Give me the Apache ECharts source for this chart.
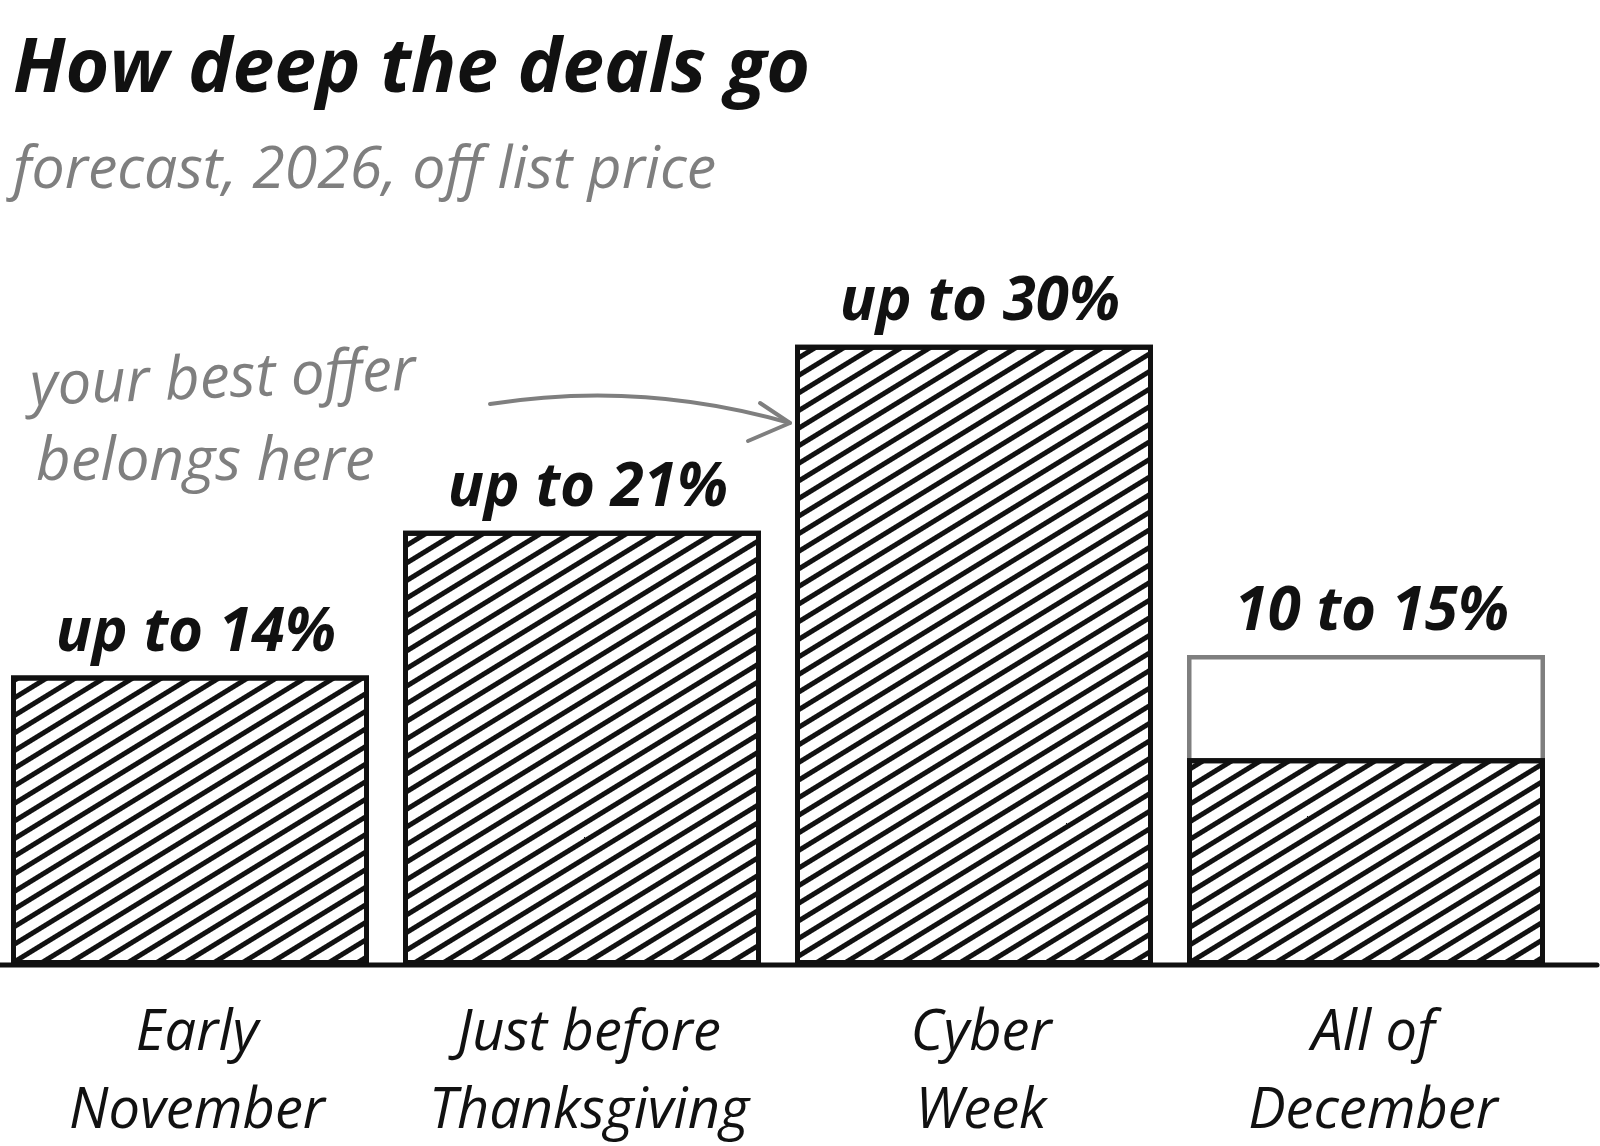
<!DOCTYPE html>
<html>
<head>
<meta charset="utf-8">
<title>How deep the deals go</title>
<script src="https://cdn.jsdelivr.net/npm/echarts@6/dist/echarts.min.js"></script>
<style>
  html, body { margin: 0; padding: 0; background: #fff; }
  #chart { width: 1600px; height: 1146px; }
</style>
</head>
<body>
<div id="chart"></div>
<script>
// 数据
const categories = ['Early\nNovember', 'Just before\nThanksgiving', 'Cyber\nWeek', 'All of\nDecember']
const dealLow = [14, 21, 30, 10]          // 实心柱
const dealHigh = [null, null, null, 15]   // 区间上限（灰框）
const valueLabels = ['up to 14%', 'up to 21%', 'up to 30%', '10 to 15%']
const noteLines = ['your best offer', 'belongs here']

const FONT = "'Open Sans', 'DejaVu Sans', sans-serif"
const INK = '#111'
const GREY = '#7f7f7f'

const chart = echarts.init(document.getElementById('chart'))

const valueLabel = {
  show: true,
  position: 'top',
  distance: 12,
  offset: [6, 0],
  fontFamily: FONT,
  fontSize: 60,
  fontStyle: 'italic',
  fontWeight: 'bold',
  color: INK
}

const option = {
  backgroundColor: '#fff',
  animation: false,
  title: {
    text: 'How deep the deals go',
    subtext: 'forecast, 2026, off list price',
    left: 8,
    top: 28,
    itemGap: 34,
    textStyle: { fontFamily: FONT, fontSize: 75, fontWeight: 'bold', fontStyle: 'italic', color: INK },
    subtextStyle: { fontFamily: FONT, fontSize: 59, fontStyle: 'italic', color: GREY }
  },
  grid: {
    left: -6, right: 38, top: 138, bottom: 181,
    containLabel: false,
    outerBoundsMode: 'none'
  },
  xAxis: {
    type: 'category',
    data: categories,
    axisLine: { show: false },
    axisTick: { show: false },
    axisLabel: {
      interval: 0,
      margin: 30,
      padding: [0, 0, 0, 14],
      fontFamily: FONT,
      fontSize: 56,
      fontStyle: 'italic',
      lineHeight: 78,
      color: INK
    }
  },
  yAxis: { type: 'value', min: 0, max: 40, show: false, splitLine: { show: false } },
  series: [
    {
      name: 'range',
      type: 'bar',
      data: dealHigh,
      barGap: '-100%',
      barWidth: 358,
      z: 1,
      itemStyle: { color: 'rgba(0,0,0,0)', borderColor: GREY, borderWidth: 4.5 },
      label: Object.assign({}, valueLabel, { formatter: p => valueLabels[p.dataIndex] })
    },
    {
      name: 'deal',
      type: 'bar',
      data: dealLow,
      barGap: '-100%',
      barWidth: 358,
      z: 2,
      itemStyle: {
        color: '#fff',
        borderColor: INK,
        borderWidth: 5,
        decal: {
          symbol: 'rect',
          symbolSize: 1,
          color: INK,
          dashArrayX: [1, 0],
          dashArrayY: [5, 10],
          rotation: -0.55
        }
      },
      label: Object.assign({}, valueLabel, {
        formatter: p => (dealHigh[p.dataIndex] == null ? valueLabels[p.dataIndex] : '')
      })
    }
  ]
}

chart.setOption(option)

// 基线和注释
const y0 = chart.convertToPixel({ yAxisIndex: 0 }, 0)
chart.setOption({
  graphic: [
    {
      id: 'baseline',
      type: 'line',
      z: 10,
      shape: { x1: 0, y1: y0, x2: 1597, y2: y0 },
      style: { stroke: INK, lineWidth: 5, lineCap: 'round' }
    },
    {
      id: 'note1',
      type: 'text',
      x: 30, y: 388,
      rotation: 0.04,
      style: { text: noteLines[0], font: `italic 60px ${FONT}`, fill: GREY, verticalAlign: 'middle' }
    },
    {
      id: 'note2',
      type: 'text',
      x: 36, y: 463,
      style: { text: noteLines[1], font: `italic 60px ${FONT}`, fill: GREY, verticalAlign: 'middle' }
    },
    {
      id: 'arrow',
      type: 'bezierCurve',
      shape: { x1: 490, y1: 404, x2: 790, y2: 423, cpx1: 640, cpy1: 380 },
      style: { stroke: GREY, lineWidth: 4, fill: null, lineCap: 'round' }
    },
    {
      id: 'arrowHead',
      type: 'polyline',
      shape: { points: [[760, 403], [790, 423], [748, 441]] },
      style: { stroke: GREY, lineWidth: 4, fill: null, lineCap: 'round', lineJoin: 'round' }
    }
  ]
})
</script>
</body>
</html>
